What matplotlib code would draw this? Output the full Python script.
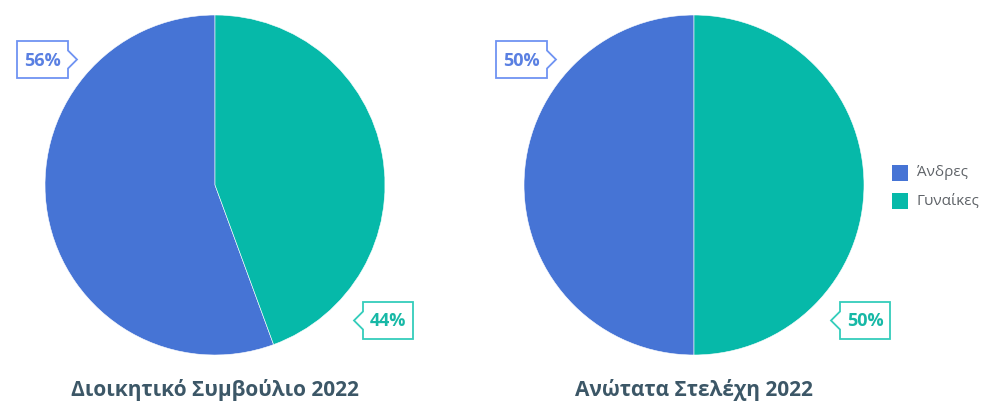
import matplotlib
matplotlib.use("Agg")
import matplotlib.pyplot as plt
from matplotlib.patches import Polygon, Rectangle

# data
titles = ["Διοικητικό Συμβούλιο 2022", "Ανώτατα Στελέχη 2022"]
categories = ["Άνδρες", "Γυναίκες"]
values = [[55.6, 44.4], [50, 50]]
colors = ["#4674D5", "#06B9A9"]
label_text_colors = ["#5A80E2", "#17B8A6"]
label_edge_colors = ["#6F93F2", "#34CDBB"]

W, H = 982, 404
plt.rcParams['font.family'] = ['Open Sans', 'DejaVu Sans']

fig = plt.figure(figsize=(W / 100, H / 100), dpi=100)


def px_axes(left, top, w, h):
    return fig.add_axes([left / W, (H - top - h) / H, w / W, h / H])


def callout(x0, y0, x1, y1, side, text, ec, tc):
    # box in image pixel coords (top-left origin), pointer on one side
    ym = (y0 + y1) / 2
    if side == "right":
        pts = [(x0, y0), (x1, y0), (x1, ym - 9), (x1 + 9, ym), (x1, ym + 9), (x1, y1), (x0, y1)]
    else:
        pts = [(x0, y0), (x1, y0), (x1, y1), (x0, y1), (x0, ym + 9), (x0 - 9, ym), (x0, ym - 9)]
    pts = [(x / W, 1 - y / H) for x, y in pts]
    fig.patches.append(Polygon(pts, closed=True, facecolor="white", edgecolor=ec,
                               linewidth=1.3, transform=fig.transFigure, zorder=5))
    fig.text((x0 + x1) / 2 / W, 1 - (ym + 1) / H, text, ha="center", va="center",
             fontsize=13, fontweight="bold", color=tc, zorder=6)


centers = [215, 694]
boxes = [
    [(17, 41, 68, 78, "right"), (363, 302, 413, 339, "left")],
    [(496, 41, 547, 78, "right"), (840, 302, 890, 339, "left")],
]

for k in range(2):
    ax = px_axes(centers[k] - 170, 15, 340, 340)
    ax.pie(values[k], colors=colors, startangle=90, counterclock=True,
           wedgeprops=dict(edgecolor="white", linewidth=0.4))
    ax.set_xlim(-1, 1)
    ax.set_ylim(-1, 1)
    ax.set_aspect("equal")
    ax.axis("off")
    for i, (x0, y0, x1, y1, side) in enumerate(boxes[k]):
        callout(x0, y0, x1, y1, side, f"{round(values[k][i])}%",
                label_edge_colors[i], label_text_colors[i])
    fig.text(centers[k] / W, 1 - 390 / H, titles[k], ha="center", va="center",
             fontsize=15, fontweight="bold", color="#3C5767")

# legend
for i, cat in enumerate(categories):
    y = 165 + i * 28
    fig.patches.append(Rectangle((892 / W, 1 - (y + 16) / H), 16 / W, 16 / H,
                                 facecolor=colors[i], transform=fig.transFigure))
    fig.text(917 / W, 1 - (y + 8) / H, cat, ha="left", va="center",
             fontsize=11, color="#5F6368")

fig.savefig("out.png", dpi=100)
